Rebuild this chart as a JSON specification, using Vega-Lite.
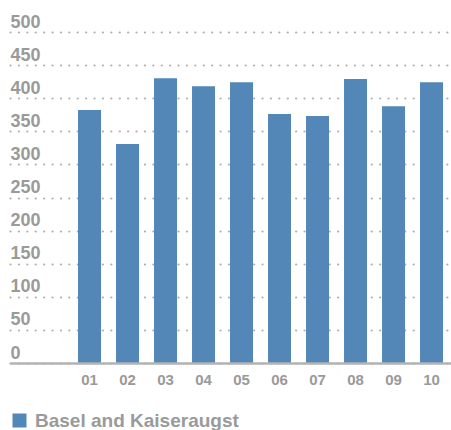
{
  "$schema": "https://vega.github.io/schema/vega-lite/v6.json",
  "width": 441,
  "height": 331,
  "autosize": "none",
  "padding": {"left": 10, "top": 32, "right": 0, "bottom": 67},
  "background": "white",
  "config": {
    "view": {"stroke": null},
    "font": "Liberation Sans",
    "axis": {"labelFont": "Liberation Sans", "labelFontWeight": "bold", "labelColor": "#9a9a9a", "ticks": false, "title": null}
  },
  "data": {
    "values": [
      {"month": "01", "value": 382, "series": "Basel and Kaiseraugst"},
      {"month": "02", "value": 331, "series": "Basel and Kaiseraugst"},
      {"month": "03", "value": 430, "series": "Basel and Kaiseraugst"},
      {"month": "04", "value": 418, "series": "Basel and Kaiseraugst"},
      {"month": "05", "value": 424, "series": "Basel and Kaiseraugst"},
      {"month": "06", "value": 376, "series": "Basel and Kaiseraugst"},
      {"month": "07", "value": 373, "series": "Basel and Kaiseraugst"},
      {"month": "08", "value": 429, "series": "Basel and Kaiseraugst"},
      {"month": "09", "value": 388, "series": "Basel and Kaiseraugst"},
      {"month": "10", "value": 424, "series": "Basel and Kaiseraugst"}
    ]
  },
  "mark": {"type": "bar"},
  "encoding": {
    "x": {
      "field": "month",
      "type": "ordinal",
      "scale": {"paddingInner": 0.395, "paddingOuter": 1.0, "align": 0.895},
      "axis": {
        "labelAngle": 0,
        "labelFontSize": 15,
        "labelBaseline": "top",
        "labelPadding": 9,
        "domainColor": "#b3b3b3",
        "domainWidth": 2.5,
        "grid": false,
        "zindex": 1
      }
    },
    "y": {
      "field": "value",
      "type": "quantitative",
      "scale": {"domain": [0, 500], "nice": false},
      "axis": {
        "values": [0, 50, 100, 150, 200, 250, 300, 350, 400, 450, 500],
        "domain": false,
        "grid": true,
        "gridColor": "#b0b0b0",
        "gridWidth": 2.2,
        "gridDash": [0.1, 8.3],
        "gridCap": "round",
        "labelAlign": "left",
        "labelBaseline": "alphabetic",
        "labelPadding": 0,
        "labelOffset": -5,
        "labelFontSize": 18
      }
    },
    "color": {
      "field": "series",
      "type": "nominal",
      "scale": {"range": ["#5287b8"]},
      "legend": {
        "title": null,
        "orient": "none",
        "legendX": 0,
        "legendY": 379,
        "padding": 0,
        "symbolType": "square",
        "symbolSize": 196,
        "symbolStrokeWidth": 0,
        "symbolOpacity": 1,
        "labelOffset": 6,
        "labelFont": "Liberation Sans",
        "labelFontSize": 19,
        "labelFontWeight": "bold",
        "labelColor": "#9a9a9a",
        "labelLimit": 400
      }
    }
  }
}
